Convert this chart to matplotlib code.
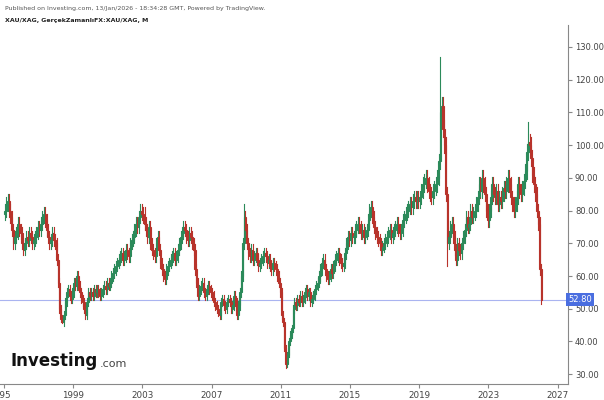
import matplotlib
matplotlib.use("Agg")
import matplotlib.pyplot as plt
import numpy as np

years = list(range(1995, 2026))
closes_by_year = [
    [80,82,83,80,78,74,70,72,73,76,74,73],
    [70,68,70,72,71,73,72,70,71,72,73,75],
    [74,76,78,79,77,74,72,70,71,73,71,70],
    [65,58,50,47,46,48,52,55,56,54,53,55],
    [58,57,60,57,55,53,52,50,48,52,55,54],
    [55,54,56,55,56,55,54,55,56,57,56,58],
    [57,58,60,61,62,63,64,65,66,67,65,66],
    [68,67,66,70,71,72,74,76,75,78,80,79],
    [78,76,74,72,75,70,68,67,66,70,72,68],
    [64,62,60,59,62,63,64,65,66,67,65,66],
    [68,70,72,73,75,74,72,71,73,72,70,68],
    [62,58,54,56,57,58,55,54,56,57,56,55],
    [54,52,51,50,49,48,52,53,51,50,52,53],
    [52,50,51,54,52,48,51,55,60,70,78,74],
    [70,67,66,68,65,66,67,65,63,64,65,66],
    [67,66,64,65,63,62,64,63,62,60,58,55],
    [48,46,38,33,36,40,42,44,50,52,51,53],
    [52,54,52,53,55,56,54,55,52,53,54,56],
    [57,58,60,62,64,65,62,60,59,60,62,61],
    [63,65,66,67,65,64,63,64,67,70,72,71],
    [73,72,72,74,75,76,75,73,74,72,73,74],
    [77,80,81,78,75,73,72,71,70,68,69,70],
    [71,72,73,74,72,73,74,75,76,74,73,74],
    [77,78,79,80,81,82,81,83,84,83,84,83],
    [84,86,88,89,90,88,86,85,84,86,87,88],
    [90,95,110,112,105,100,85,70,72,75,76,72],
    [68,65,70,68,67,70,72,74,78,75,76,80],
    [78,79,80,82,84,88,86,90,88,85,80,77],
    [80,84,88,85,84,86,82,84,83,85,87,86],
    [88,90,88,84,82,80,82,84,88,86,85,87],
    [89,92,98,101,100,96,91,88,85,80,76,62],
]
close_2026 = [52.8]
first_open = 79.0
extreme_highs = {(2020, 3): 127.0, (2025, 4): 107.0, (2008, 11): 82.0, (2003, 2): 81.0}
extreme_lows = {(2011, 4): 32.0, (1998, 5): 45.5, (2020, 8): 63.0}
last_price = 52.80

dates, closes = [], []
for y, row in zip(years, closes_by_year):
    for m, c in enumerate(row, 1):
        dates.append((y, m)); closes.append(c)
for m, c in enumerate(close_2026, 1):
    dates.append((2026, m)); closes.append(c)

fig = plt.figure(figsize=(6.04, 4.0), dpi=100)
ax = fig.add_axes([0, 0.04, 568/604, 0.9375-0.04])
up, dn = "#2b8a5a", "#b8332b"
prev = first_open
for (y, m), c in zip(dates, closes):
    o = prev
    x = y + (m - 0.5) / 12
    hi = extreme_highs.get((y, m), max(o, c) * 1.025)
    lo = extreme_lows.get((y, m), min(o, c) * 0.975)
    col = up if c >= o else dn
    ax.plot([x, x], [lo, hi], color=col, lw=0.8, zorder=2)
    ax.add_patch(plt.Rectangle((x - 0.03, min(o, c)), 0.06, max(abs(c - o), 0.2),
                               facecolor=col, edgecolor=col, lw=0.8, zorder=3))
    prev = c

ax.axhline(last_price, color="#aab4f0", lw=0.8, zorder=1)
ax.set_xlim(1994.77, 2027.6)
ax.set_ylim(27, 136.7)
ax.yaxis.tick_right()
ax.set_yticks(np.arange(30, 131, 10))
ax.set_yticklabels([f"{v:.2f}" for v in np.arange(30, 131, 10)], fontsize=6, color="#444444")
xt = [1995, 1999, 2003, 2007, 2011, 2015, 2019, 2023, 2027]
ax.set_xticks(xt)
ax.set_xticklabels(["'95"] + [str(v) for v in xt[1:]], fontsize=6.3, color="#444444")
ax.tick_params(length=3, color="#888888", pad=2)
for s in ["top", "left"]:
    ax.spines[s].set_visible(False)
for s in ["bottom", "right"]:
    ax.spines[s].set_color("#888888")
ax.text(1.0, last_price, f"{last_price:.2f}", transform=ax.get_yaxis_transform(),
        ha="left", va="center", fontsize=6, color="white",
        bbox=dict(boxstyle="square,pad=0.25", fc="#4a6ee0", ec="none"), clip_on=False)

fig.text(0.008, 0.985, "Published on Investing.com, 13/Jan/2026 - 18:34:28 GMT, Powered by TradingView.",
         fontsize=4.5, color="#555555", va="top")
fig.text(0.008, 0.955, "XAU/XAG, GerçekZamanlıFX:XAU/XAG, M", fontsize=4.5, color="#222222",
         va="top", fontweight="bold")
fig.text(0.018, 0.075, "Investing", fontsize=12, fontweight="bold", color="#111111", va="bottom")
fig.text(0.165, 0.077, ".com", fontsize=8, color="#444444", va="bottom")
fig.savefig("out.png", dpi=100)
